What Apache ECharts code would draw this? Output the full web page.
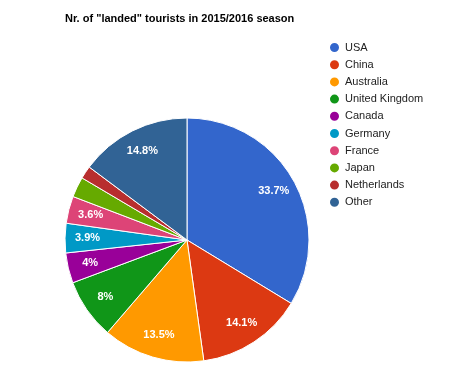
<!DOCTYPE html>
<html>
<head>
<meta charset="utf-8">
<script src="https://cdn.jsdelivr.net/npm/echarts@6/dist/echarts.min.js"></script>
<style>
  html, body { margin: 0; padding: 0; background: #fff; }
  #chart { width: 474px; height: 368px; }
</style>
</head>
<body>
<div id="chart"></div>
<script>
var countries = ['USA', 'China', 'Australia', 'United Kingdom', 'Canada', 'Germany', 'France', 'Japan', 'Netherlands', 'Other'];
var shares = [33.7, 14.1, 13.5, 8, 4, 3.9, 3.6, 2.7, 1.7, 14.8];
var colors = ['#3366cc', '#dc3912', '#ff9900', '#109618', '#990099', '#0099c6', '#dd4477', '#66aa00', '#b82e2e', '#316395'];

var chart = echarts.init(document.getElementById('chart'));

var pieData = countries.map(function (name, i) {
    return { name: name, value: shares[i] };
});

var option = {
    color: colors,
    animation: false,
    title: {
        text: 'Nr. of "landed" tourists in 2015/2016 season',
        left: 60,
        top: 8,
        textStyle: {
            fontFamily: 'Liberation Sans, Arial, sans-serif',
            fontSize: 11,
            fontWeight: 'bold',
            color: '#000'
        }
    },
    legend: {
        orient: 'vertical',
        left: 323,
        top: 36,
        icon: 'circle',
        itemWidth: 11,
        itemHeight: 11,
        itemGap: 4.2,
        data: countries,
        textStyle: {
            fontFamily: 'Liberation Sans, Arial, sans-serif',
            fontSize: 11,
            color: '#222'
        }
    },
    series: [
        {
            // the visible pie
            name: 'tourists',
            type: 'pie',
            center: [187, 240],
            radius: [0, 122],
            startAngle: 90,
            clockwise: true,
            label: { show: false },
            labelLine: { show: false },
            itemStyle: { borderColor: '#fff', borderWidth: 1 },
            emphasis: { disabled: true },
            data: pieData
        },
        {
            // transparent ring only to put the % labels further out
            name: 'labels',
            type: 'pie',
            silent: true,
            center: [187, 240],
            radius: [71, 122],
            startAngle: 90,
            clockwise: true,
            minShowLabelAngle: 11,
            itemStyle: { color: 'rgba(0,0,0,0)', borderWidth: 0 },
            label: {
                show: true,
                position: 'inside',
                formatter: '{c}%',
                fontFamily: 'Liberation Sans, Arial, sans-serif',
                fontSize: 11,
                fontWeight: 'bold',
                color: '#fff'
            },
            labelLine: { show: false },
            emphasis: { disabled: true },
            data: pieData
        }
    ]
};

chart.setOption(option);
window.addEventListener('resize', function () {
    chart.resize();
});
</script>
</body>
</html>
